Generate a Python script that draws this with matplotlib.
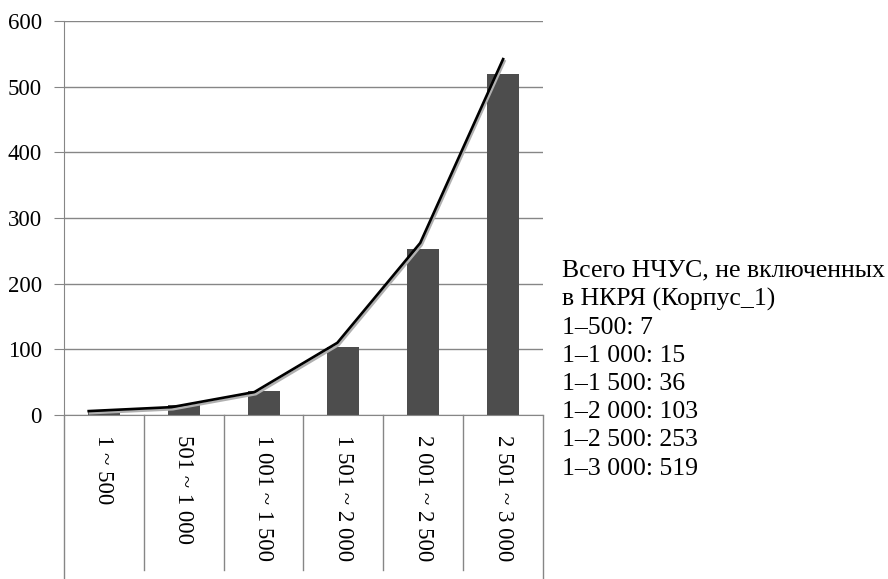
import matplotlib
matplotlib.use("Agg")
import matplotlib.pyplot as plt
import matplotlib.patheffects as pe
import numpy as np

plt.rcParams['font.family'] = ['Liberation Serif', 'DejaVu Serif']

# data
categories = ['1 ~ 500', '501 ~ 1 000', '1 001 ~ 1 500',
              '1 501 ~ 2 000', '2 001 ~ 2 500', '2 501 ~ 3 000']
counts = [7, 15, 36, 103, 253, 519]
trend = [6, 12, 35, 110, 262, 542]
legend_lines = ['Всего НЧУС, не включенных', 'в НКРЯ (Корпус_1)',
                '1–500: 7', '1–1 000: 15', '1–1 500: 36',
                '1–2 000: 103', '1–2 500: 253', '1–3 000: 519']

grid_col = '#868686'

fig = plt.figure(figsize=(8.88, 5.79), dpi=100)
ax = fig.add_axes([0.072, 0.2832, 0.5395, 0.6805])

x = np.arange(len(categories))
ax.bar(x, counts, width=0.4, color='#4d4d4d', zorder=2)

# trend line sits slightly off the category centres in the original
line_x = np.linspace(-0.19, 5.0, len(trend))
ax.plot(line_x, trend, color='black', lw=1.9, zorder=3,
        path_effects=[pe.SimpleLineShadow(offset=(1, -1.5), shadow_color='#b0b0b0', alpha=1),
                      pe.Normal()])

ax.set_xlim(-0.5, 5.5)
ax.set_ylim(0, 600)
ax.set_yticks(range(0, 601, 100))
ax.yaxis.grid(True, color=grid_col, lw=1)
ax.set_axisbelow(True)
ax.tick_params(axis='y', length=7, color=grid_col, labelsize=16.5, pad=9)
ax.tick_params(axis='x', length=0, labelbottom=False)
for s in ['top', 'right']:
    ax.spines[s].set_visible(False)
ax.spines['left'].set_color(grid_col)
ax.spines['bottom'].set_color(grid_col)

# table-like category area below the axis
tr = ax.get_xaxis_transform()
for b in np.arange(0.5, 5.5, 1.0):
    ax.plot([b, b], [0, -0.393], transform=tr, color=grid_col, lw=1, clip_on=False)
for b in [-0.5, 5.5]:
    ax.plot([b, b], [0, -0.42], transform=tr, color=grid_col, lw=1, clip_on=False)
for xi, lab in zip(x, categories):
    ax.text(xi, -0.05, lab, transform=tr, rotation=-90, ha='center', va='top',
            fontsize=16.5)

fig.text(0.633, 0.552, '\n'.join(legend_lines), ha='left', va='top',
         fontsize=18.5, linespacing=1.36)

fig.savefig('out.png', dpi=100)
